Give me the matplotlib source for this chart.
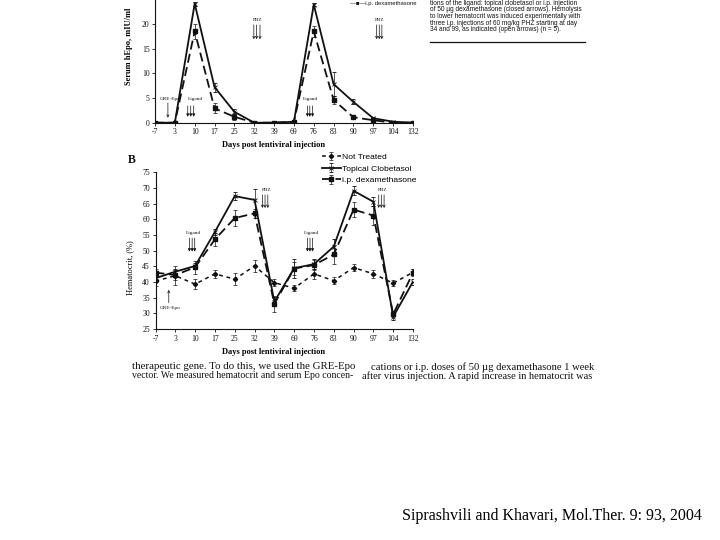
import matplotlib
matplotlib.use("Agg")
import matplotlib.pyplot as plt
from matplotlib.patches import Rectangle

# ---- data -----------------------------------------------------------------
days = ["-7", "3", "10", "17", "25", "32", "39", "69", "76", "83", "90", "97", "104", "132"]

# panel A: serum hEpo (mIU/ml)
epo_clobetasol = [0, 0, 24.1, 7.2, 2.2, 0, 0, 0.2, 23.9, 7.8, 4.2, 0.9, 0.2, 0]
epo_clobetasol_err = [0, 0, 0.4, 0.9, 0.5, 0, 0, 0.1, 0.3, 2.4, 0.5, 0.2, 0.1, 0]
epo_dexa = [0, 0, 18.5, 2.9, 1.2, 0, 0, 0.2, 18.5, 4.6, 1.1, 0.5, 0, 0]
epo_dexa_err = [0, 0, 1.5, 1.0, 0.6, 0, 0, 0.1, 1.1, 0.8, 0.2, 0.2, 0, 0]

# panel B: hematocrit (%)
hct_untreated = [40.3, 42.0, 39.3, 42.6, 40.9, 45.1, 39.8, 38.0, 42.6, 40.4, 44.6, 42.6, 39.6, 43.1]
hct_untreated_err = [1.5, 3.0, 1.5, 1.3, 2.0, 1.8, 1.2, 1.0, 1.5, 1.2, 1.2, 1.3, 1.0, 1.0]
hct_clobetasol = [41.2, 43.3, 45.1, 56.0, 67.4, 66.2, 33.7, 44.4, 45.7, 51.3, 69.1, 65.6, 28.9, 40.1]
hct_clobetasol_err = [1.0, 1.0, 1.0, 1.0, 1.3, 3.5, 1.5, 3.0, 1.5, 2.5, 1.5, 1.5, 1.0, 1.0]
hct_dexa = [43.0, 42.2, 44.7, 53.6, 60.4, 61.9, 33.0, 44.3, 45.4, 48.8, 63.1, 61.2, 29.7, 43.0]
hct_dexa_err = [1.0, 1.5, 2.0, 2.0, 2.6, 1.5, 2.5, 2.0, 1.5, 3.0, 2.5, 3.0, 1.0, 1.0]

caption_lines = [
    "tions of the ligand: topical clobetasol or i.p. injection",
    "of 50 \u00b5g dexamethasone (closed arrows). Hemolysis",
    "to lower hematocrit was induced experimentally with",
    "three i.p. injections of 60 mg/kg PHZ starting at day",
    "34 and 99, as indicated (open arrows) (n = 5).",
]
body_left = ["therapeutic gene. To do this, we used the GRE-Epo",
             "vector. We measured hematocrit and serum Epo concen-"]
body_right = ["cations or i.p. doses of 50 \u00b5g dexamethasone 1 week",
              "after virus injection. A rapid increase in hematocrit was"]

SERIF = ["Liberation Serif", "DejaVu Serif"]
SANS = ["Liberation Sans", "DejaVu Sans"]
INK = "#111111"

W, H = 720, 540
fig = plt.figure(figsize=(7.2, 5.4), dpi=100)


def px_axes(left, top, right, bottom):
    # place an axes box given page pixel edges
    return fig.add_axes([left / W, 1 - bottom / H, (right - left) / W, (bottom - top) / H])


def style_axes(ax):
    for side in ("top", "right"):
        ax.spines[side].set_visible(False)
    for side in ("left", "bottom"):
        ax.spines[side].set_linewidth(0.8)
        ax.spines[side].set_color(INK)
    ax.tick_params(labelsize=5.5, length=2, width=0.6, colors=INK, pad=2)
    for lab in ax.get_xticklabels() + ax.get_yticklabels():
        lab.set_family(SERIF)
    ax.set_facecolor("none")


def arrows(ax, xs, y0, y1, closed):
    style = "-|>" if closed else "->"
    for x in xs:
        ax.annotate("", xy=(x, y1), xytext=(x, y0), annotation_clip=False,
                    arrowprops=dict(arrowstyle=style, lw=0.5, color=INK,
                                    mutation_scale=4, shrinkA=0, shrinkB=0))


def note(ax, x, y, s):
    ax.text(x, y, s, fontsize=3.8, family=SERIF, ha="center", va="center", color=INK)


idx = list(range(len(days)))
err_kw = dict(elinewidth=0.5, capsize=1.5, capthick=0.5, ecolor=INK)

# ---- Panel A --------------------------------------------------------------
axA = px_axes(155, -0.8, 413, 122.7)
axA.errorbar(idx, epo_clobetasol, yerr=epo_clobetasol_err, color=INK, lw=1.3,
             marker="x", ms=2.5, mew=0.6, **err_kw)
axA.errorbar(idx, epo_dexa, yerr=epo_dexa_err, color=INK, lw=1.3, dashes=(5, 2.5),
             marker="s", ms=2.3, **err_kw)
axA.set_xlim(0, 13)
axA.set_ylim(0, 25)
axA.set_xticks(idx)
axA.set_xticklabels(days)
axA.set_yticks([0, 5, 10, 15, 20])
style_axes(axA)
axA.set_ylabel("Serum hEpo, mIU/ml", fontsize=6, family=SERIF, fontweight="bold")
axA.yaxis.set_label_coords(-0.085, 0.62)
axA.set_xlabel("Days post lentiviral injection", fontsize=6, family=SERIF,
               fontweight="bold", labelpad=3)
axA.xaxis.set_label_coords(0.46, -0.15)

note(axA, 0.75, 4.7, "GRE-Epo")
arrows(axA, [0.65], 4.0, 1.0, closed=False)
note(axA, 2.05, 4.7, "Ligand")
arrows(axA, [1.65, 1.8, 1.95], 3.4, 1.2, closed=True)
note(axA, 5.15, 20.8, "PBZ")
arrows(axA, [4.98, 5.12, 5.29], 19.8, 16.9, closed=False)
note(axA, 7.85, 4.7, "Ligand")
arrows(axA, [7.68, 7.8, 7.94], 3.4, 1.2, closed=True)
note(axA, 11.3, 20.8, "PBZ")
arrows(axA, [11.17, 11.3, 11.43], 19.8, 16.9, closed=False)

# remains of panel A's legend at the top edge of the scan
fig.text(350 / W, 1 - 0.5 / H, "\u2014\u25a0\u2014i.p. dexamethasone", fontsize=4.2,
         family=SANS, ha="left", va="top", color=INK)

# ---- Panel B --------------------------------------------------------------
axB = px_axes(155.5, 172.3, 413, 329)
axB.errorbar(idx, hct_untreated, yerr=hct_untreated_err, color=INK, lw=1.1,
             dashes=(2.5, 2.5), marker="D", ms=2.2, label="Not Treated", **err_kw)
axB.errorbar(idx, hct_clobetasol, yerr=hct_clobetasol_err, color=INK, lw=1.3,
             marker="x", ms=2.5, mew=0.6, label="Topical Clobetasol", **err_kw)
axB.errorbar(idx, hct_dexa, yerr=hct_dexa_err, color=INK, lw=1.3, dashes=(5, 2.5),
             marker="s", ms=2.8, label="i.p. dexamethasone", **err_kw)
axB.set_xlim(0, 13)
axB.set_ylim(25, 75)
axB.set_xticks(idx)
axB.set_xticklabels(days)
axB.set_yticks(range(25, 76, 5))
style_axes(axB)
axB.set_ylabel("Hematocrit, (%)", fontsize=6, family=SERIF)
axB.yaxis.set_label_coords(-0.083, 0.39)
axB.set_xlabel("Days post lentiviral injection", fontsize=6, family=SERIF,
               fontweight="bold")
axB.xaxis.set_label_coords(0.46, -0.12)

leg = axB.legend(loc="upper left", bbox_to_anchor=(322 / W, 1 - 153 / H),
                 bbox_transform=fig.transFigure, frameon=False, fontsize=6.1,
                 handlelength=2.2, handletextpad=0.15, labelspacing=0.45,
                 borderpad=0, borderaxespad=0)
for t in leg.get_texts():
    t.set_family(SANS)

note(axB, 1.9, 55.5, "Ligand")
arrows(axB, [1.71, 1.85, 1.98], 54.0, 49.7, closed=True)
note(axB, 5.6, 69.2, "PBZ")
arrows(axB, [5.40, 5.53, 5.67], 67.8, 63.6, closed=False)
note(axB, 7.85, 55.5, "Ligand")
arrows(axB, [7.67, 7.80, 7.93], 54.0, 49.7, closed=True)
note(axB, 11.45, 69.2, "PBZ")
arrows(axB, [11.27, 11.40, 11.54], 67.8, 63.6, closed=False)
note(axB, 0.72, 31.8, "GRE-Epo")
arrows(axB, [0.67], 33.4, 37.5, closed=False)

# panel letter
fig.text(132 / W, 1 - 160 / H, "B", fontsize=8.5, family=SERIF, fontweight="bold",
         ha="center", va="center", color=INK)

# ---- surrounding page text -------------------------------------------------
for i, line in enumerate(caption_lines):
    fig.text(430 / W, 1 - (3.2 + i * 6.65) / H, line, fontsize=4.7, family=SANS,
             ha="left", va="center", color=INK)
fig.add_artist(plt.Line2D([430 / W, 585 / W], [1 - 42.3 / H, 1 - 42.3 / H],
                          color=INK, lw=0.9))

# justified column text: each line sized to fill the column width
for i, (line, size) in enumerate(zip(body_left, [7.85, 7.0])):
    fig.text(132 / W, 1 - (366.7 + i * 9.3) / H, line, fontsize=size, family=SERIF,
             ha="left", va="center", color=INK)
for i, (line, x0, size) in enumerate(zip(body_right, [371, 362], [7.65, 7.5])):
    fig.text(x0 / W, 1 - (366.7 + i * 9.3) / H, line, fontsize=size, family=SERIF,
             ha="left", va="center", color=INK)

# the scanned page ends here; blank below
fig.add_artist(Rectangle((0, 0), 1, 1 - 381 / H, transform=fig.transFigure,
                         facecolor="white", edgecolor="none", zorder=50))

fig.text(702 / W, 1 - 516 / H, "Siprashvili and Khavari, Mol.Ther. 9: 93, 2004",
         fontsize=11.5, family=SERIF, ha="right", va="center", color="black", zorder=60)

fig.savefig("out.png", dpi=100)
